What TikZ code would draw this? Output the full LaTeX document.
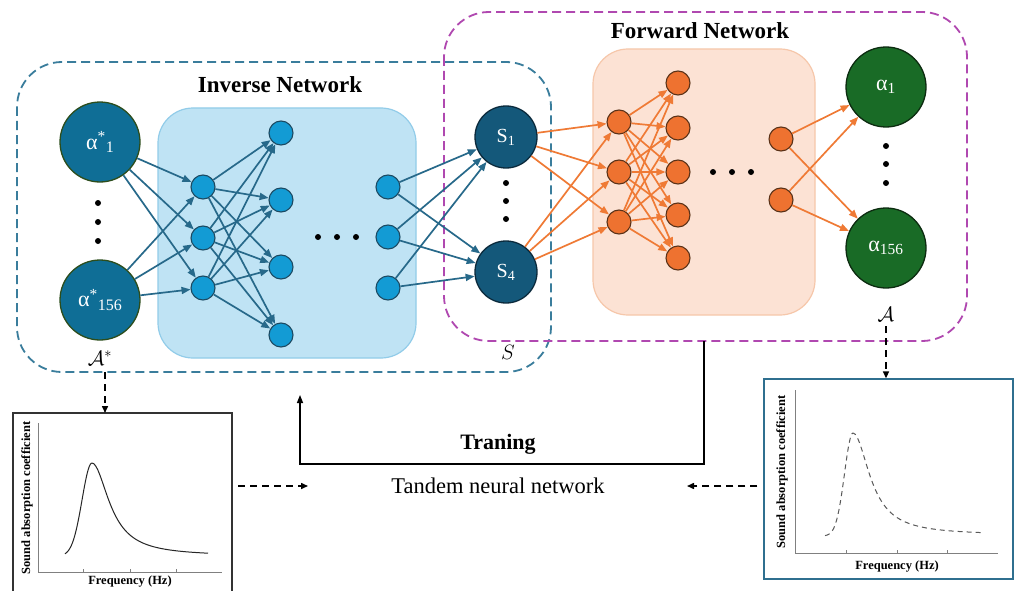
\documentclass[tikz,border=0pt]{standalone}
\usepackage{fontspec}
\setmainfont{Liberation Serif}
\usetikzlibrary{arrows.meta}
\definecolor{invdash}{HTML}{3A7D9C}
\definecolor{fwddash}{HTML}{B048B0}
\definecolor{invbox}{HTML}{BFE3F4}
\definecolor{invboxd}{HTML}{92CCE9}
\definecolor{fwdbox}{HTML}{FCE2D4}
\definecolor{fwdboxd}{HTML}{F6C7AA}
\definecolor{inpfill}{HTML}{0F6E96}
\definecolor{inpdraw}{HTML}{2C4D1C}
\definecolor{sfill}{HTML}{14587A}
\definecolor{sdraw}{HTML}{0B2A3C}
\definecolor{bfill}{HTML}{139BD4}
\definecolor{bdraw}{HTML}{1C4A62}
\definecolor{invline}{HTML}{27698A}
\definecolor{ofill}{HTML}{EE7230}
\definecolor{odraw}{HTML}{5A3218}
\definecolor{oline}{HTML}{EF7A35}
\definecolor{gfill}{HTML}{196B26}
\definecolor{gdraw}{HTML}{0C2C10}
\definecolor{plotbox}{HTML}{2F6F8F}
\definecolor{axisc}{HTML}{808080}
\begin{document}
\begin{tikzpicture}[x=1pt,y=-1pt,
  bigc/.style={circle,inner sep=0pt,minimum size=80pt,line width=1.3pt,text=white,font=\fontsize{22}{24}\selectfont},
  inpc/.style={bigc,fill=inpfill,draw=inpdraw},
  outc/.style={bigc,fill=gfill,draw=gdraw},
  sc/.style={circle,inner sep=0pt,minimum size=62pt,line width=1.3pt,fill=sfill,draw=sdraw,text=white,font=\fontsize{20}{22}\selectfont},
  bn/.style={circle,inner sep=0pt,minimum size=24pt,line width=1.1pt,fill=bfill,draw=bdraw},
  on/.style={circle,inner sep=0pt,minimum size=24pt,line width=1.1pt,fill=ofill,draw=odraw},
  invedge/.style={draw=invline,line width=1.7pt,-{Triangle[length=9pt,width=7pt]}},
  fwdedge/.style={draw=oline,line width=1.7pt,-{Triangle[length=9pt,width=7pt]}},
  dotc/.style={circle,fill=black,inner sep=0pt,minimum size=6pt},
  title/.style={font=\fontsize{23}{27}\selectfont\bfseries},
  axlab/.style={font=\fontsize{12.5}{14}\selectfont\bfseries},
  dasharrow/.style={draw=black,line width=1.5pt,dash pattern=on 7pt off 5pt,-{Triangle[length=7pt,width=6pt]}},
  setlab/.style={font=\fontsize{22}{24}\selectfont}
]
\useasboundingbox (0,0) rectangle (1019,591);
\clip (0,0) rectangle (1019,591);
\fill[white] (0,0) rectangle (1019,591);

% dashed regions
\draw[invdash,line width=1.8pt,dash pattern=on 9pt off 5pt,rounded corners=45pt] (17,62) rectangle (551,372);
\draw[fwddash,line width=1.8pt,dash pattern=on 9pt off 5pt,rounded corners=45pt] (444,12) rectangle (967,341);

% coloured boxes
\draw[fill=invbox,draw=invboxd,line width=1.2pt,rounded corners=35pt] (158,108) rectangle (416,358);
\draw[fill=fwdbox,draw=fwdboxd,line width=1.2pt,rounded corners=35pt] (593,49) rectangle (815,315);

% titles
\node[title] (tinv) at (280,85) {Inverse Network};
\node[title] (tfwd) at (700,31) {Forward Network};

% input nodes
\node[inpc] (i1) at (100,142) {α\textsuperscript{*}\raisebox{-0.35ex}{\fontsize{16}{18}\selectfont 1}};
\node[inpc] (i2) at (100,300) {α\textsuperscript{*}\raisebox{-0.35ex}{\fontsize{16}{18}\selectfont 156}};
\node[dotc] (d1) at (98,203) {};
\node[dotc] (d2) at (98,222) {};
\node[dotc] (d3) at (98,241) {};
\node[setlab] (astar) at (100,358) {$\mathcal{A}^{*}$};

% inverse hidden layers
\node[bn] (a1) at (203,187) {};
\node[bn] (a2) at (203,238) {};
\node[bn] (a3) at (203,288) {};
\node[bn] (b1) at (281,133) {};
\node[bn] (b2) at (281,200) {};
\node[bn] (b3) at (281,267) {};
\node[bn] (b4) at (281,335) {};
\node[dotc] (e1) at (318,237) {};
\node[dotc] (e2) at (337,237) {};
\node[dotc] (e3) at (356,237) {};
\node[bn] (c1) at (388,187) {};
\node[bn] (c2) at (388,237) {};
\node[bn] (c3) at (388,288) {};

% S nodes
\node[sc] (s1) at (506,137) {S\textsubscript{1}};
\node[sc] (s4) at (506,272) {S\textsubscript{4}};
\node[dotc] (f1) at (506,183) {};
\node[dotc] (f2) at (506,201) {};
\node[dotc] (f3) at (506,219) {};
\node[setlab] (slab) at (508,352) {$S$};

% forward hidden layers
\node[on] (p1) at (619,122) {};
\node[on] (p2) at (619,172) {};
\node[on] (p3) at (619,222) {};
\node[on] (q1) at (678,83) {};
\node[on] (q2) at (678,128) {};
\node[on] (q3) at (678,172) {};
\node[on] (q4) at (678,215) {};
\node[on] (q5) at (678,258) {};
\node[dotc] (g1) at (713,172) {};
\node[dotc] (g2) at (732,172) {};
\node[dotc] (g3) at (751,172) {};
\node[on] (r1) at (781,139) {};
\node[on] (r2) at (781,200) {};

% output nodes
\node[outc] (o1) at (886,87) {α\textsubscript{1}};
\node[outc] (o2) at (886,248) {α\textsubscript{156}};
\node[dotc] (h1) at (886,146) {};
\node[dotc] (h2) at (886,164) {};
\node[dotc] (h3) at (886,183) {};
\node[setlab] (alab) at (886,314) {$\mathcal{A}$};

% edges
\foreach \u in {i1,i2} \foreach \v in {a1,a2,a3} \draw[invedge] (\u) -- (\v);
\foreach \u in {a1,a2,a3} \foreach \v in {b1,b2,b3,b4} \draw[invedge] (\u) -- (\v);
\foreach \u in {c1,c2,c3} \foreach \v in {s1,s4} \draw[invedge] (\u) -- (\v);
\foreach \u in {s1,s4} \foreach \v in {p1,p2,p3} \draw[fwdedge] (\u) -- (\v);
\foreach \u in {p1,p2,p3} \foreach \v in {q1,q2,q3,q4,q5} \draw[fwdedge] (\u) -- (\v);
\foreach \u in {r1,r2} \foreach \v in {o1,o2} \draw[fwdedge] (\u) -- (\v);

% left plot
\draw[black!80,line width=1.3pt] (13,600) -- (13,413) coordinate (lpt) -- (232,413) -- (232,600);
\coordinate (lpr) at (232,486);
\draw[axisc,line width=1pt] (38,423) -- (38,572) -- (222,572);
\foreach \x in {83,130,176} \draw[axisc,line width=0.8pt] (\x,572) -- (\x,569);
\draw[black!85,line width=1pt,line join=round]
  plot[domain=65:92,samples=30] (\x,{556-93*exp(-((\x-92)/14)^2)})
  -- plot[domain=92:208,samples=60] (\x,{556-93/(1+((\x-92)/20.5)^2)});
\node[axlab,rotate=90] (lyl) at (27,498) {Sound absorption coefficient};
\node[axlab] (lxl) at (130,582) {Frequency (Hz)};

% right plot
\node[draw=plotbox,line width=1.3pt,minimum width=249pt,minimum height=200pt,inner sep=0pt] (rp) at (888.5,479) {};
\draw[axisc,line width=1pt] (795,390) -- (795,553) -- (998,553);
\foreach \x in {846,897,947} \draw[axisc,line width=0.8pt] (\x,553) -- (\x,550);
\draw[black!65,line width=1pt,dash pattern=on 5pt off 4pt]
  plot[domain=825:853,samples=30] (\x,{536-103*exp(-((\x-853)/12)^2)})
  -- plot[domain=853:983,samples=60] (\x,{535-102/(1+((\x-853)/20)^2)});
\node[axlab,rotate=90] (ryl) at (782,472) {Sound absorption coefficient};
\node[axlab] (rxl) at (897,567) {Frequency (Hz)};

% dashed arrows
\coordinate (invb) at (105,372);
\draw[dasharrow] (invb) -- (lpt -| invb);
\coordinate (atop) at (886,326);
\draw[dasharrow] (atop) -- (rp.north -| atop);
\coordinate (lend) at (308,486);
\draw[dasharrow] (lpr) ++(6,0) -- (lend);
\coordinate (rend) at (687,486);
\draw[dasharrow] (rp.west |- rend) ++(-6,0) -- (rend);

% training loop
\coordinate (tr0) at (704,341);
\coordinate (tr1) at (704,464);
\coordinate (tr2) at (300,464);
\coordinate (tr3) at (300,395);
\draw[black,line width=1.4pt,-{Triangle[length=8pt,width=6pt]}] (tr0) -- (tr1) -- (tr2) -- (tr3);
\node[font=\fontsize{22}{24}\selectfont\bfseries] (tlab) at (498,444) {Traning};
\node[font=\fontsize{22.5}{25}\selectfont] (tnn) at (498,486) {Tandem neural network};
\end{tikzpicture}
\end{document}
